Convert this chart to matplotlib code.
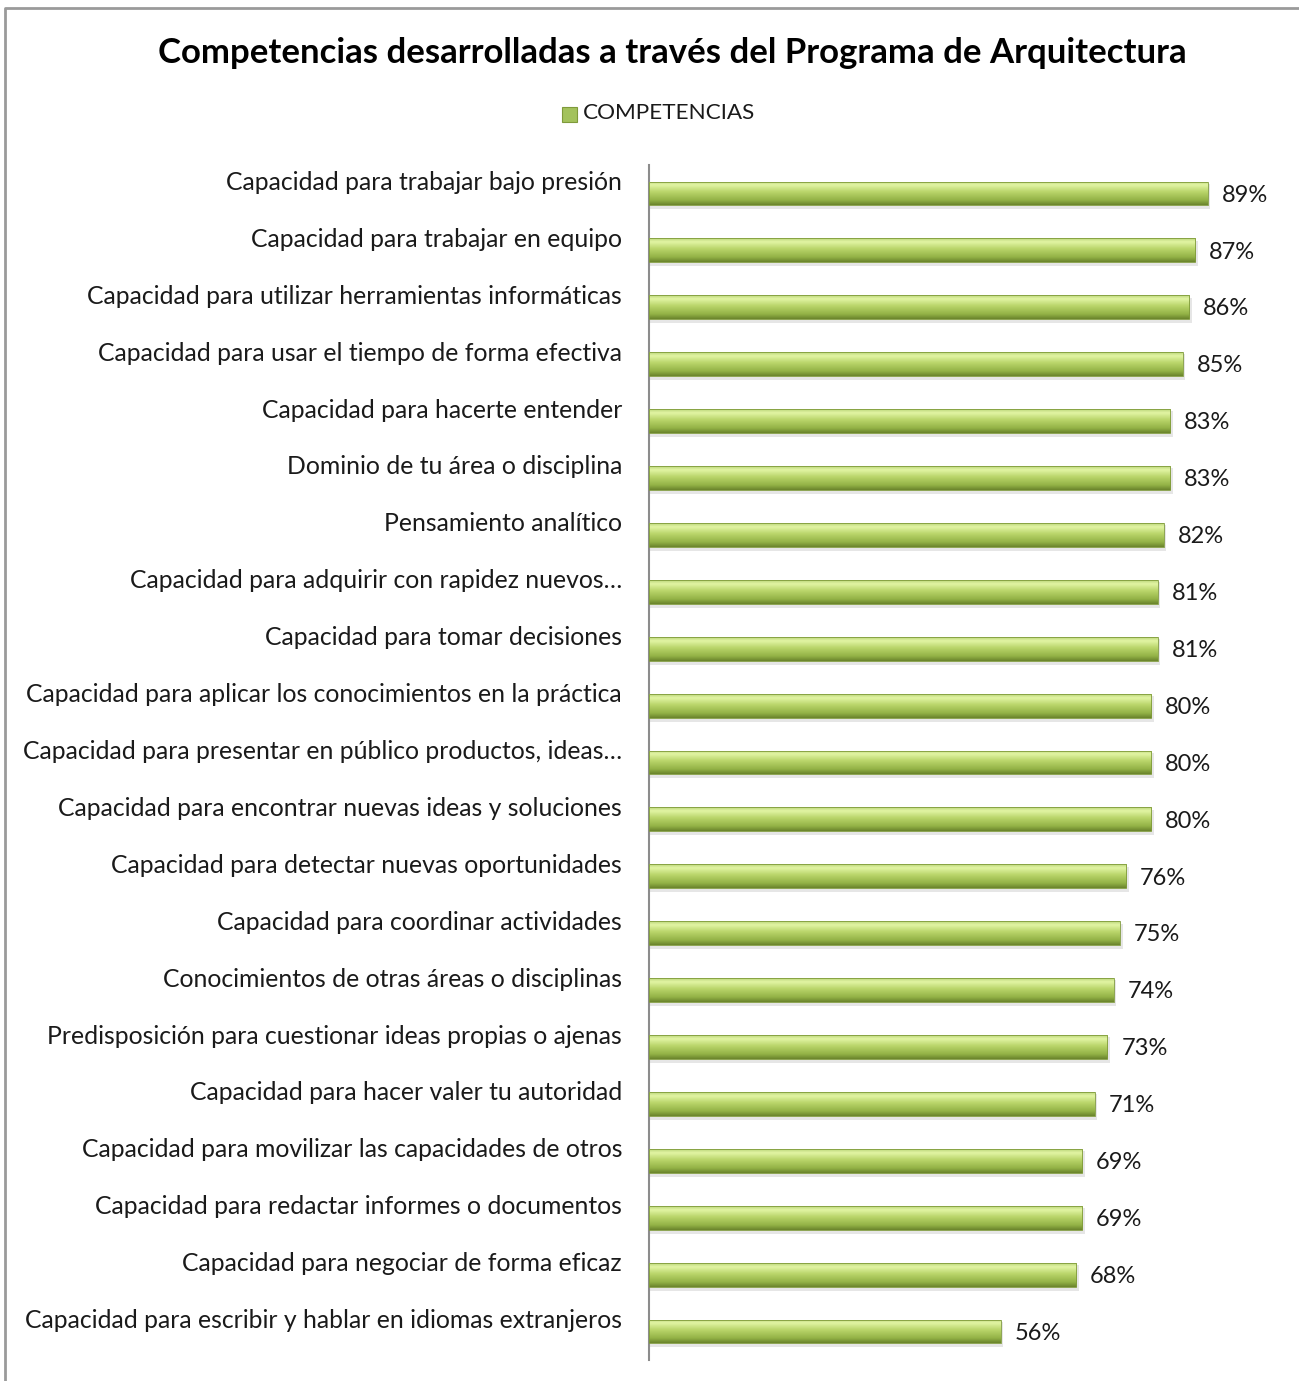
import numpy as np
import matplotlib.pyplot as plt
from matplotlib.colors import LinearSegmentedColormap
from matplotlib.patches import Rectangle
from matplotlib.lines import Line2D
import matplotlib.transforms as mtransforms

plt.rcParams['font.family'] = ['Lato', 'DejaVu Sans']

competencias = [
    'Capacidad para trabajar bajo presión',
    'Capacidad para trabajar en equipo',
    'Capacidad para utilizar herramientas informáticas',
    'Capacidad para usar el tiempo de forma efectiva',
    'Capacidad para hacerte entender',
    'Dominio de tu área o disciplina',
    'Pensamiento analítico',
    'Capacidad para adquirir con rapidez nuevos…',
    'Capacidad para tomar decisiones',
    'Capacidad para aplicar los conocimientos en la práctica',
    'Capacidad para presentar en público productos, ideas…',
    'Capacidad para encontrar nuevas ideas y soluciones',
    'Capacidad para detectar nuevas oportunidades',
    'Capacidad para coordinar actividades',
    'Conocimientos de otras áreas o disciplinas',
    'Predisposición para cuestionar ideas propias o ajenas',
    'Capacidad para hacer valer tu autoridad',
    'Capacidad para movilizar las capacidades de otros',
    'Capacidad para redactar informes o documentos',
    'Capacidad para negociar de forma eficaz',
    'Capacidad para escribir y hablar en idiomas extranjeros',
]
porcentajes = [0.89, 0.87, 0.86, 0.85, 0.83, 0.83, 0.82, 0.81, 0.81, 0.80, 0.80,
               0.80, 0.76, 0.75, 0.74, 0.73, 0.71, 0.69, 0.69, 0.68, 0.56]

verde = LinearSegmentedColormap.from_list('verde', [
    (0.0, '#bcd67a'), (0.15, '#e2f5a4'), (0.45, '#b9d56a'),
    (0.8, '#93b246'), (1.0, '#6a842c')])

fig = plt.figure(figsize=(12.99, 13.81), dpi=100)
ax = fig.add_axes([649 / 1299, 1 - 1360 / 1381, 628 / 1299, 1195 / 1381])

y = np.arange(len(competencias))
alto = 0.42
bars = ax.barh(y, porcentajes, height=alto, color='none', zorder=3)
grad = np.linspace(0, 1, 64).reshape(-1, 1)
for yi, b, v in zip(y, bars, porcentajes):
    # sombra
    ax.add_patch(Rectangle((0, yi - alto / 2 + 0.04), v + 0.004, alto + 0.03,
                           facecolor='#c8c8c8', alpha=0.45, edgecolor='none', zorder=2))
    im = ax.imshow(grad, extent=(0, v, yi + alto / 2, yi - alto / 2), aspect='auto',
                   cmap=verde, zorder=3, interpolation='bilinear')
    im.set_clip_path(b)
    ax.add_patch(Rectangle((0, yi - alto / 2), v, alto, facecolor='none',
                           edgecolor='#7f9a3a', linewidth=0.6, zorder=4))
    ax.text(v + 0.022, yi + 0.03, f'{v:.0%}', va='center', ha='left',
            fontsize=17, color='#1a1a1a')

# etiquetas de categoría, un poco por encima de la barra como en Excel
trans = mtransforms.blended_transform_factory(ax.transAxes, ax.transData)
trans = trans + mtransforms.ScaledTranslation(-27 / 100, 11 / 100, fig.dpi_scale_trans)
for yi, c in zip(y, competencias):
    ax.text(0, yi, c, transform=trans, ha='right', va='center',
            fontsize=17.8, color='#1a1a1a')

ax.set_xlim(0, 1)
ax.set_ylim(len(competencias) - 0.5, -0.5)
ax.set_yticks([])
ax.set_xticks([])
for s in ['top', 'right', 'bottom']:
    ax.spines[s].set_visible(False)
ax.spines['left'].set_color('#8c8c8c')
ax.spines['left'].set_linewidth(1.5)

fig.text(672 / 1299, 1 - 53 / 1381, 'Competencias desarrolladas a través del Programa de Arquitectura',
         ha='center', va='center', fontsize=25, fontweight='bold', color='black')

# leyenda
fig.patches.append(Rectangle((562 / 1299, 1 - 122 / 1381), 15 / 1299, 15 / 1381,
                             transform=fig.transFigure, facecolor='#a3c25c',
                             edgecolor='#7f9a3a', linewidth=0.8))
fig.text(583 / 1299, 1 - 113 / 1381, 'COMPETENCIAS', ha='left', va='center',
         fontsize=16.2, color='#1a1a1a')

# borde
fig.lines.append(Line2D([5 / 1299, 5 / 1299, 1.0], [0, 1 - 8 / 1381, 1 - 8 / 1381],
                        transform=fig.transFigure, color='#9a9a9a', linewidth=2))

fig.savefig('out.png', dpi=100)
